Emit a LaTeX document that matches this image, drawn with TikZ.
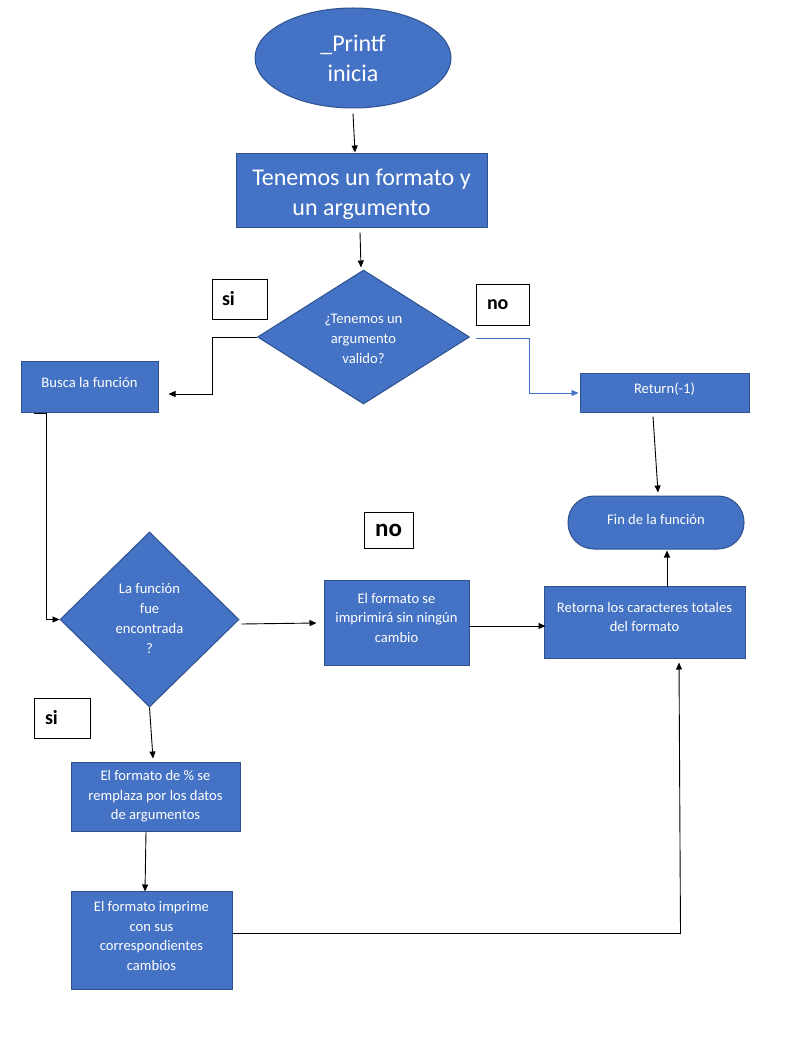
\documentclass[tikz,border=0pt]{standalone}
\usepackage{fontspec}
\setmainfont{Carlito}
\usetikzlibrary{shapes.geometric,arrows.meta,calc}
\definecolor{boxfill}{RGB}{68,114,196}
\definecolor{boxline}{RGB}{47,82,143}
\tikzset{
  blk/.style={draw=boxline,line width=1pt,fill=boxfill,text=white,inner sep=0pt,align=center,
    font=\fontsize{14.6}{19.5}\selectfont},
  bigblk/.style={blk,font=\fontsize{24}{29.5}\selectfont},
  dia/.style={draw=boxline,line width=1pt,fill=boxfill,diamond,inner sep=0pt},
  diatext/.style={text=white,align=center,inner sep=0pt,font=\fontsize{14.6}{20}\selectfont},
  bigtext/.style={text=white,align=center,inner sep=0pt,font=\fontsize{24}{29.5}\selectfont},
  tag/.style={draw=black,line width=0.8pt,fill=white,minimum height=40pt,align=left,
    font=\fontsize{20}{24}\selectfont\bfseries},
  arr/.style={draw=black,line width=0.9pt,-{Triangle[length=7pt,width=6pt]}},
  barr/.style={draw=boxfill,line width=0.9pt,-{Triangle[length=7pt,width=6pt]}},
  plain/.style={draw=black,line width=0.9pt}
}
\begin{document}
\begin{tikzpicture}[x=1pt,y=-1pt]
\useasboundingbox[fill=white] (0,0) rectangle (804,1048);
% nodes
\node[blk,ellipse,minimum width=196pt,minimum height=100pt,font=\fontsize{24}{30}\selectfont] (start) at (353,58) {\_Printf\\inicia};
\node[blk,minimum width=251pt,minimum height=74pt] (box1) at (361.5,191) {};
\node[bigtext] (box1t) at (361.5,194.5) {Tenemos un formato y\\un argumento};
\node[dia,minimum width=212pt,minimum height=134pt] (d1) at (363.5,337) {};
\node[diatext] (d1t) at (363.5,339) {¿Tenemos un\\argumento\\valido?};
\node[tag,inner xsep=10pt,text width=35pt] (si1) at (239.5,299) {si};
\node[tag,inner xsep=11pt,text width=31pt,minimum height=41pt] (no1) at (502.5,304.5) {no};
\node[blk,minimum width=137pt,minimum height=51pt] (busca) at (89.5,386.5) {Busca la función\\[-11.5pt]};
\node[blk,minimum width=169pt,minimum height=39pt] (ret1) at (664.5,392.5) {Return(-1)\\[-11.5pt]};
\node[blk,rounded corners=26pt,minimum width=176pt,minimum height=53pt] (fin) at (656,522.5) {Fin de la función\\[-13.5pt]};
\node[tag,minimum width=49pt,minimum height=36pt,align=center,font=\fontsize{25}{28}\selectfont\bfseries] (no2) at (388.5,530) {no};
\node[dia,minimum width=179pt,minimum height=175pt] (d2) at (149.5,619.5) {};
\node[diatext] (d2t) at (149.5,619) {La función\\fue\\encontrada\\?};
\node[blk,minimum width=145pt,minimum height=85pt] (fmt) at (396.5,622.5) {El formato se\\imprimirá sin ningún\\cambio\\[-9.5pt]};
\node[blk,minimum width=201pt,minimum height=72pt] (ret) at (644.5,622) {Retorna los caracteres totales\\del formato\\[-9.5pt]};
\node[tag,inner xsep=11pt,text width=34pt] (si2) at (62,718) {si};
\node[blk,minimum width=169pt,minimum height=69pt] (rep) at (155.5,796.5) {El formato de \% se\\remplaza por los datos\\de argumentos};
\node[blk,minimum width=161pt,minimum height=98pt] (imp) at (151.5,940) {El formato imprime\\con sus\\correspondientes\\cambios\\[-11.5pt]};
% connectors
\draw[arr] ($(start.south)+(0,5)$) -- ($(box1.north)+(-6.5,-1)$);
\draw[arr] ($(box1.south)+(-1.5,4)$) -- ($(d1.north)+(-2.5,-2)$);
\draw[arr] (d1.west) -- ++(-45,0) |- ($(busca.east)+(10,7.5)$);
\draw[barr] ($(d1.east)+(6,1)$) -- ++(53,0) |- ($(ret1.west)+(-1,0.5)$);
\draw[arr] ($(ret1.south)+(-11.5,4)$) -- ($(fin.north)+(2,-3)$);
\draw[arr] ($(ret.north)+(22.5,1)$) -- ($(fin.south)+(11,1)$);
\draw[arr] ($(busca.south west)+(13,1)$) -- ++(13,0) |- (d2.west);
\draw[arr] ($(d2.east)+(2,4.5)$) -- ($(fmt.west)+(-7,0.5)$);
\draw[arr] ($(fmt.east)+(0,3.5)$) -- ($(ret.west)+(2,4)$);
\draw[arr] (d2.south) -- ($(rep.north)+(-2.5,-3)$);
\draw[arr] ($(rep.south)+(-9.5,0)$) -- ($(imp.north)+(-6.5,1)$);
\draw[plain] ($(imp.east)+(0,-7)$) -- ++(448,0) coordinate (corner);
\draw[arr] ($(corner)+(0,1)$) -- ($(ret.south)+(34.5,4)$);
\end{tikzpicture}
\end{document}
